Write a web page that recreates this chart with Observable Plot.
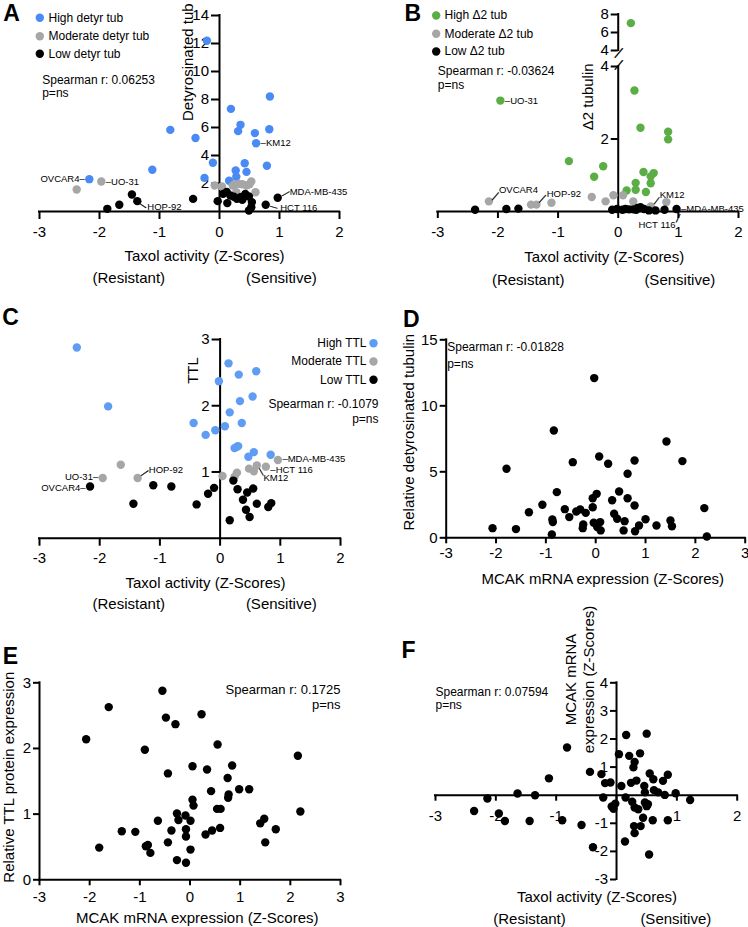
<!DOCTYPE html>
<html>
<head>
<meta charset="utf-8">
<script src="https://cdn.jsdelivr.net/npm/d3@7"></script>
<script src="https://cdn.jsdelivr.net/npm/@observablehq/plot@0.6"></script>
<style>
html,body{margin:0;padding:0;background:#fff;}
#fig{position:relative;width:748px;height:927px;overflow:hidden;background:#fff;}
#fig svg{position:absolute;}
</style>
</head>
<body>
<div id="fig"></div>
<script>
// ================= DATA =================
// Panel A: Taxol activity (Z) vs detyrosinated tubulin
const aHigh = [[-0.21,12.2],[-0.82,5.83],[-0.40,5.25],[-1.12,2.98],[-2.17,2.31],[-0.11,3.48],[-0.25,2.40],[0.19,7.33],[0.35,6.19],[0.31,5.74],[0.84,8.21],[0.83,5.88],[0.59,5.60],[0.61,4.88],[0.42,3.45],[0.45,2.83],[0.27,2.93],[0.28,2.48],[0.16,2.20],[0.79,3.27]];
const aMod = [[-2.38,1.57],[-1.97,2.14],[-0.08,1.86],[0.04,1.79],[0.22,1.85],[0.25,1.93],[0.32,1.97],[0.38,1.95],[0.45,1.86],[0.50,1.95],[0.53,2.14],[0.28,1.38],[0.60,1.38]];
const aLow = [[-1.87,0.19],[-1.67,0.48],[-1.46,1.21],[-1.37,0.74],[-0.44,0.90],[-0.03,0.74],[0.06,1.26],[0.13,0.60],[0.18,1.14],[0.12,1.40],[0.24,1.05],[0.29,0.90],[0.35,1.02],[0.38,0.83],[0.43,1.26],[0.49,1.07],[0.54,0.67],[0.49,0.07],[0.53,0.31],[0.77,0.48],[0.97,0.98]];
// Panel B: Taxol activity (Z) vs delta2 tubulin
const bHigh = [[0.21,7.04],[-1.96,3.06],[0.27,3.34],[0.37,2.31],[0.83,2.20],[0.83,1.99],[-0.82,1.39],[-0.25,1.25],[-0.40,0.96],[0.42,1.09],[0.59,1.06],[0.54,0.97],[0.54,0.78],[0.29,0.79],[0.29,0.60],[0.14,0.58],[0.46,0.54]];
const bMod = [[-2.15,0.28],[-1.45,0.19],[-1.36,0.19],[-1.11,0.24],[-0.44,0.40],[-0.21,0.28],[-0.08,0.45],[0.08,0.45],[0.25,0.28],[0.54,0.14],[0.80,0.26]];
const bLow = [[-2.38,0.05],[-1.86,0.07],[-1.66,0.08],[-0.10,0.05],[-0.02,0.07],[0.07,0.05],[0.12,0.07],[0.18,0.06],[0.25,0.06],[0.30,0.05],[0.32,0.10],[0.37,0.12],[0.43,0.07],[0.51,0.03],[0.62,0.03],[0.77,0.05],[0.97,0.07]];
// Panel C: Taxol activity (Z) vs TTL
const cHigh = [[-2.38,2.88],[-1.86,1.99],[-0.44,1.74],[-0.24,1.56],[-0.08,1.63],[0.08,1.69],[-0.02,2.37],[0.14,2.64],[0.31,2.47],[0.60,2.52],[0.54,2.14],[0.33,2.07],[0.16,1.90],[0.36,1.74],[0.24,1.36],[0.30,1.39],[0.28,1.38],[0.47,1.23],[0.56,1.30],[0.84,1.26]];
const cMod = [[-1.65,1.11],[-1.95,0.91],[-1.37,0.91],[0.04,0.94],[0.28,0.99],[0.24,0.93],[0.48,1.05],[0.61,1.10],[0.56,1.01],[0.76,1.08],[0.96,1.18]];
const cLow = [[-2.16,0.78],[-1.44,0.52],[-1.11,0.80],[-0.81,0.78],[-0.39,0.51],[-0.20,0.67],[-0.10,0.76],[0.16,0.27],[0.22,0.87],[0.29,0.74],[0.38,0.58],[0.45,0.69],[0.55,0.75],[0.43,0.43],[0.49,0.32],[0.61,0.52],[0.85,0.53],[0.80,0.47]];
// Panel D: MCAK mRNA (Z) vs relative detyrosinated tubulin
const dPts = [[-2.07,0.73],[-1.79,5.23],[-1.60,0.66],[-1.34,1.94],[-1.07,2.50],[-0.84,8.13],[-0.87,1.39],[-0.86,1.19],[-0.88,0.25],[-0.78,3.46],[-0.62,2.17],[-0.53,1.57],[-0.46,5.73],[-0.39,1.99],[-0.31,2.15],[-0.26,0.73],[-0.25,1.01],[-0.20,1.89],[-0.06,3.00],[-0.06,2.32],[-0.03,12.1],[-0.04,1.14],[0.02,3.33],[0.03,0.81],[0.07,6.16],[0.09,1.19],[0.10,0.56],[0.25,5.61],[0.33,2.85],[0.37,1.82],[0.43,1.44],[0.47,3.51],[0.56,0.56],[0.58,1.26],[0.64,3.00],[0.64,4.85],[0.78,5.86],[0.78,2.45],[0.79,0.50],[0.87,0.93],[1.00,1.41],[1.22,0.93],[1.42,7.30],[1.50,1.31],[1.53,0.88],[1.74,5.81],[2.18,2.25],[2.23,0.10]];
// Panel E: MCAK mRNA (Z) vs relative TTL protein
const ePts = [[-2.07,2.14],[-1.81,0.49],[-1.62,2.63],[-1.36,0.74],[-1.09,0.73],[-0.90,1.98],[-0.88,0.51],[-0.84,0.53],[-0.79,0.41],[-0.64,0.90],[-0.55,2.88],[-0.48,2.47],[-0.44,1.62],[-0.44,0.57],[-0.37,0.75],[-0.29,2.37],[-0.26,1.01],[-0.23,0.91],[-0.26,0.30],[-0.09,0.98],[-0.08,0.77],[-0.08,0.66],[-0.08,0.26],[0.01,0.90],[0.01,0.46],[0.05,1.73],[0.05,1.22],[0.07,1.13],[0.23,2.52],[0.31,0.69],[0.34,1.68],[0.42,1.35],[0.44,0.75],[0.54,1.08],[0.55,2.06],[0.61,1.08],[0.60,0.79],[0.75,1.55],[0.76,1.25],[0.77,1.30],[0.84,1.74],[0.98,1.38],[1.18,1.38],[1.40,0.86],[1.48,0.93],[1.50,0.57],[1.71,0.77],[2.15,1.89],[2.20,1.04]];
// Panel F: Taxol activity (Z) vs MCAK mRNA (Z)
const fPts = [[-2.36,-0.56],[-2.14,-0.12],[-1.95,-0.65],[-1.85,-0.92],[-1.64,0.06],[-1.44,-0.92],[-1.35,0.00],[-1.12,0.60],[-0.90,-0.89],[-0.82,1.70],[-0.58,-1.06],[-0.44,0.83],[-0.39,-1.85],[-0.25,0.75],[-0.22,-0.08],[-0.19,0.43],[-0.10,0.45],[-0.08,-0.40],[-0.05,-0.48],[-0.02,-0.30],[0.04,1.46],[0.08,0.33],[0.14,-1.65],[0.16,2.14],[0.15,-0.08],[0.21,1.40],[0.28,0.99],[0.30,1.18],[0.24,0.44],[0.33,0.52],[0.26,-0.23],[0.30,-0.44],[0.36,-0.50],[0.29,-1.10],[0.30,-1.35],[0.40,-1.10],[0.39,1.49],[0.50,2.19],[0.46,0.33],[0.47,0.10],[0.47,-0.26],[0.50,-0.39],[0.44,-0.80],[0.52,-0.32],[0.55,0.77],[0.61,0.57],[0.62,0.18],[0.54,-2.11],[0.60,-0.89],[0.69,0.10],[0.77,0.51],[0.85,0.73],[0.80,0.01],[0.85,-0.89],[0.98,0.07],[1.22,-0.17]];

// Tick values
const taxolTicks = [-3,-2,-1,0,1,2];
const mcakTicks = [-3,-2,-1,0,1,2,3];
const aYTicks = [2,4,6,8,10,12,14];
const bLowerTicks = [2,4];
const bUpperTicks = [4,6,8];
const cYTicks = [1,2,3];
const dYTicks = [0,5,10,15];
const eYTicks = [0,1,2,3];
const fXLabels = [-3,-2,-1,1,2];
const fYTicks = [-3,-2,-1,1,2,3,4];

// Texts
const spearman = {A:"Spearman r: 0.06253", B:"Spearman r: -0.03624", C:"Spearman r: -0.1079", D:"Spearman r: -0.01828", E:"Spearman r: 0.1725", F:"Spearman r: 0.07594"};
const taxolTitle = "Taxol activity (Z-Scores)";
const mcakTitle = "MCAK mRNA expression (Z-Scores)";

// ================= STYLE =================
const FONT = '"Liberation Sans", Arial, Helvetica, sans-serif';
const BLUE_A = "#4a8af4", BLUE_C = "#5e9df3", GRAY = "#a6a6a6", GREEN = "#5bad45", BLACK = "#000000";
const R = 4.2;

function noteMarks(notes, mL, mT) {
  return notes.map(n => n.dot
    ? Plot.dot([0], {frameAnchor: "top-left", dx: n.x - mL, dy: n.y - mT, r: R, fill: n.dot})
    : Plot.text([n.t], {frameAnchor: "top-left", dx: n.x - mL, dy: n.y - mT, text: d => d,
        fontSize: n.s || 12, fontWeight: n.w || "normal", textAnchor: n.a || "start",
        lineAnchor: "middle", rotate: n.rot || 0, fill: "#000",
        stroke: n.stroke ? "#000" : "none", strokeWidth: n.stroke || 0}));
}

function labelMarks(labels) {
  const out = [];
  for (const L of labels) {
    const base = {x: d => d.at[0], y: d => d.at[1], fontSize: 9.5, lineAnchor: "middle", fill: "#000"};
    if (L.mode === "right") out.push(Plot.text([L], {...base, text: d => "\u2013" + d.name, textAnchor: "start", dx: 4.5, dy: L.ty || 0}));
    else if (L.mode === "left") out.push(Plot.text([L], {...base, text: d => d.name + "\u2013", textAnchor: "end", dx: -4.5, dy: L.ty || 0}));
    else {
      out.push(Plot.text([L], {...base, text: d => d.name, textAnchor: L.anchor || "start", dx: L.tx, dy: L.ty}));
      out.push(Plot.text([L], {...base, text: () => "\u2014", fontSize: L.len, textAnchor: "middle", dx: L.lx, dy: L.ly, rotate: L.ang, stroke: "#000", strokeWidth: 0.35}));
    }
  }
  return out;
}

function build(c) {
  const [mL, mT, mR, mB] = c.m;
  const ax = {stroke: "#000", strokeWidth: 2};
  const marks = [];
  if (c.xAxisAt !== undefined) {
    marks.push(Plot.ruleY([c.xAxisAt], {x1: c.xd[0], x2: c.xd[1], ...ax, strokeLinecap: "square"}));
    marks.push(Plot.ruleX(c.xTicks, {x: d => d, y1: c.xAxisAt, y2: c.xAxisAt, insetBottom: -c.tick, ...ax}));
    marks.push(Plot.text(c.xLabs, {x: d => d, y: c.xAxisAt, dy: c.xLabDy, text: d => String(d), fontSize: 15, textAnchor: "middle", lineAnchor: "middle"}));
  }
  marks.push(Plot.ruleX([c.yAxisAt], {y1: c.yr[0], y2: c.yr[1], ...ax, strokeLinecap: "square"}));
  marks.push(Plot.ruleY(c.yTicks, {y: d => d, x1: c.yAxisAt, x2: c.yAxisAt, insetLeft: -c.tick, ...ax}));
  marks.push(Plot.text(c.yLabs, {x: c.yAxisAt, y: d => d, dx: -(c.tick + 2.5), text: d => String(d), fontSize: 15, textAnchor: "end", lineAnchor: "middle"}));
  for (const s of (c.series || [])) marks.push(Plot.dot(s.data, {x: d => d[0], y: d => d[1], r: R, fill: s.fill}));
  marks.push(...labelMarks(c.labels || []));
  marks.push(...noteMarks(c.notes || [], mL, mT));
  const svg = Plot.plot({
    width: c.w, height: c.h, marginLeft: mL, marginTop: mT, marginRight: mR, marginBottom: mB,
    x: {domain: c.xd, axis: null}, y: {domain: c.yd, axis: null},
    style: {fontFamily: FONT, background: "none", overflow: "visible"},
    marks
  });
  svg.style.left = c.left + "px";
  svg.style.top = c.top + "px";
  svg.style.overflow = "visible";
  svg.style.background = "none";
  svg.style.maxWidth = "none";
  document.getElementById("fig").appendChild(svg);
}

const big = (t, x, y) => ({t, x, y, s: 23, w: "bold", a: "middle"});
const t15 = (t, x, y, o = {}) => ({t, x, y, s: 15, a: "middle", ...o});

// ---------- Panel A ----------
build({
  left: 0, top: 0, w: 374, h: 300, m: [39, 15, 35, 89],
  xd: [-3, 2], yd: [0, 14], xAxisAt: 0, yAxisAt: 0, yr: [0, 14], tick: 8,
  xTicks: taxolTicks, xLabs: taxolTicks, xLabDy: 21, yTicks: aYTicks, yLabs: aYTicks,
  series: [{data: aHigh, fill: BLUE_A}, {data: aMod, fill: GRAY}, {data: aLow, fill: BLACK}],
  labels: [
    {name: "OVCAR4", at: aHigh[4], mode: "left"},
    {name: "UO-31", at: aMod[1], mode: "right"},
    {name: "HOP-92", at: aLow[3], mode: "diag", tx: 10, ty: 6, lx: 5.7, ly: 3.9, ang: 34, len: 8},
    {name: "KM12", at: aHigh[13], mode: "right"},
    {name: "MDA-MB-435", at: aLow[20], mode: "diag", tx: 12, ty: -5.6, lx: 7.5, ly: -4.5, ang: -30, len: 8.5},
    {name: "HCT 116", at: aLow[19], mode: "diag", tx: 14.5, ty: 3, lx: 8, ly: 2, ang: 17, len: 7.5}
  ],
  notes: [
    big("A", 11, 13),
    {dot: BLUE_A, x: 39.3, y: 17.3}, {t: "High detyr tub", x: 48, y: 17.3},
    {dot: GRAY, x: 39.3, y: 35.7}, {t: "Moderate detyr tub", x: 48, y: 35.7},
    {dot: BLACK, x: 39.3, y: 53.3}, {t: "Low detyr tub", x: 48, y: 53.3},
    {t: spearman.A, x: 41.7, y: 80}, {t: "p=ns", x: 41.7, y: 92.7},
    t15("Detyrosinated tub", 187.7, 61.7, {rot: -90}),
    t15(taxolTitle, 204, 256), t15("(Resistant)", 128.3, 277.7), t15("(Sensitive)", 280.8, 277.7)
  ]
});

// ---------- Panel B (broken y axis: lower 0-4, upper 4-8) ----------
build({
  left: 374, top: 0, w: 374, h: 300, m: [63.3, 66, 10, 89],
  xd: [-3, 2], yd: [0, 4], xAxisAt: 0, yAxisAt: 0, yr: [0, 4], tick: 7,
  xTicks: taxolTicks, xLabs: taxolTicks, xLabDy: 21, yTicks: bLowerTicks, yLabs: bLowerTicks,
  series: [{data: bHigh.filter(d => d[1] <= 4), fill: GREEN}, {data: bMod, fill: GRAY}, {data: bLow, fill: BLACK}],
  labels: [
    {name: "UO-31", at: bHigh[1], mode: "right"},
    {name: "OVCAR4", at: bMod[0], mode: "diag", tx: 10, ty: -11, lx: 6, ly: -5.5, ang: -49, len: 10},
    {name: "HOP-92", at: bMod[2], mode: "diag", tx: 10.3, ty: -11, lx: 5.6, ly: -6.3, ang: -48, len: 10},
    {name: "KM12", at: bMod[9], mode: "diag", tx: 9, ty: -11.7, lx: 5.5, ly: -6, ang: -53, len: 8.5},
    {name: "HCT 116", at: bLow[15], mode: "diag", anchor: "end", tx: 11, ty: 15, lx: 13, ly: 8.3, ang: -65, len: 9},
    {name: "MDA-MB-435", at: bLow[16], mode: "right"}
  ],
  notes: [
    big("B", 38.3, 13),
    {dot: GREEN, x: 61.7, y: 15}, {t: "High \u03942 tub", x: 70, y: 15},
    {dot: GRAY, x: 61.7, y: 33.3}, {t: "Moderate \u03942 tub", x: 70, y: 33.3},
    {dot: BLACK, x: 61.7, y: 51}, {t: "Low \u03942 tub", x: 70, y: 51},
    {t: spearman.B, x: 63.3, y: 70.7}, {t: "p=ns", x: 63.3, y: 84.3},
    t15("\u03942 tubulin", 213.3, 96.3, {rot: -90}),
    t15(taxolTitle, 229.7, 256.7), t15("(Resistant)", 153.7, 279.3), t15("(Sensitive)", 305.3, 279.3),
    {t: "\u2014", x: 243.6, y: 64, s: 12, a: "middle", rot: -50, stroke: 0.5}
  ]
});
build({
  left: 374, top: 0, w: 374, h: 300, m: [63.3, 14, 10, 250],
  xd: [-3, 2], yd: [4, 8], yAxisAt: 0, yr: [4, 8], tick: 7,
  yTicks: bUpperTicks, yLabs: bUpperTicks,
  series: [{data: bHigh.filter(d => d[1] > 4), fill: GREEN}],
  notes: [
    {t: "\u2014", x: 243.6, y: 52, s: 12, a: "middle", rot: -50, stroke: 0.5}
  ]
});

// ---------- Panel C ----------
build({
  left: 0, top: 300, w: 374, h: 320, m: [39, 39, 34, 82.3],
  xd: [-3, 2], yd: [0, 3], xAxisAt: 0, yAxisAt: 0, yr: [0, 3], tick: 8,
  xTicks: taxolTicks, xLabs: taxolTicks, xLabDy: 19.6, yTicks: cYTicks, yLabs: cYTicks,
  series: [{data: cHigh, fill: BLUE_C}, {data: cMod, fill: GRAY}, {data: cLow, fill: BLACK}],
  labels: [
    {name: "UO-31", at: cMod[1], mode: "left", ty: -1},
    {name: "OVCAR4", at: cLow[0], mode: "left", ty: 1},
    {name: "HOP-92", at: cMod[2], mode: "diag", tx: 11.2, ty: -8.4, lx: 6.7, ly: -5.2, ang: -34, len: 8.8},
    {name: "MDA-MB-435", at: cMod[10], mode: "right", ty: -1},
    {name: "HCT 116", at: cMod[9], mode: "right", ty: 3},
    {name: "KM12", at: cMod[7], mode: "diag", tx: 6.6, ty: 13, lx: 4.8, ly: 6.3, ang: 60, len: 8}
  ],
  notes: [
    big("C", 10, 16.7),
    {t: "High TTL", x: 366, y: 42.7, a: "end"}, {dot: BLUE_C, x: 373, y: 42.7},
    {t: "Moderate TTL", x: 366, y: 61, a: "end"}, {dot: GRAY, x: 373, y: 61},
    {t: "Low TTL", x: 366, y: 79.3, a: "end"}, {dot: BLACK, x: 373, y: 79.3},
    {t: spearman.C, x: 378, y: 104, a: "end"}, {t: "p=ns", x: 378, y: 119, a: "end"},
    t15("TTL", 192.7, 70, {rot: -90}),
    t15(taxolTitle, 205, 282.7), t15("(Resistant)", 128.3, 304), t15("(Sensitive)", 280.8, 304)
  ]
});

// ---------- Panel D ----------
build({
  left: 374, top: 300, w: 374, h: 320, m: [71.7, 39.3, 3.3, 82.7],
  xd: [-3, 3], yd: [0, 15], xAxisAt: 0, yAxisAt: -3, yr: [0, 15], tick: 6,
  xTicks: mcakTicks, xLabs: mcakTicks, xLabDy: 15, yTicks: dYTicks, yLabs: dYTicks,
  series: [{data: dPts, fill: BLACK}],
  notes: [
    big("D", 36.7, 18.8),
    {t: spearman.D, x: 72.7, y: 46.7}, {t: "p=ns", x: 72.7, y: 63.3},
    t15("Relative detyrosinated tubulin", 35, 131.7, {rot: -90}),
    t15(mcakTitle, 228.3, 278.3)
  ]
});

// ---------- Panel E ----------
build({
  left: 0, top: 620, w: 374, h: 307, m: [39, 62.3, 34, 47.7],
  xd: [-3, 3], yd: [0, 3], xAxisAt: 0, yAxisAt: -3, yr: [0, 3], tick: 6,
  xTicks: mcakTicks, xLabs: mcakTicks, xLabDy: 17.3, yTicks: eYTicks, yLabs: eYTicks,
  series: [{data: ePts, fill: BLACK}],
  notes: [
    big("E", 10, 35.8),
    {t: spearman.E, x: 340, y: 69.3, a: "end", s: 13}, {t: "p=ns", x: 340, y: 84, a: "end", s: 13},
    t15("Relative TTL protein expression", 8.3, 156.7, {rot: -90}),
    t15(mcakTitle, 196.7, 297.7)
  ]
});

// ---------- Panel F ----------
build({
  left: 374, top: 620, w: 374, h: 307, m: [61, 62.3, 11.3, 48],
  xd: [-3, 2], yd: [-3, 4], xAxisAt: 0, yAxisAt: 0, yr: [-3, 4], tick: 6,
  xTicks: taxolTicks, xLabs: fXLabels, xLabDy: 20.7, yTicks: fYTicks, yLabs: fYTicks,
  series: [{data: fPts, fill: BLACK}],
  notes: [
    big("F", 34, 30),
    {t: spearman.F, x: 61, y: 71.7}, {t: "p=ns", x: 61, y: 85},
    t15("MCAK mRNA", 196.7, 59, {rot: -90}),
    t15("expression (Z-Scores)", 215, 59, {rot: -90}),
    t15(taxolTitle, 222.5, 276.7), t15("(Resistant)", 155, 298.3), t15("(Sensitive)", 301.3, 298.3)
  ]
});
</script>
</body>
</html>
